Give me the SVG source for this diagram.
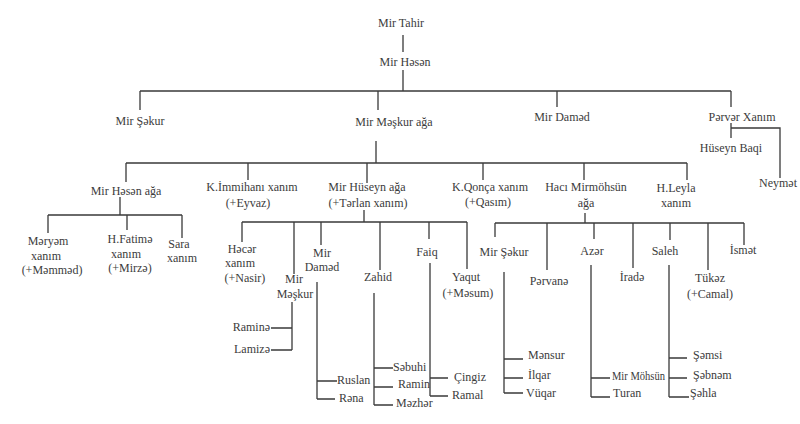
<svg xmlns="http://www.w3.org/2000/svg" width="800" height="424" viewBox="0 0 800 424">
<style>
text{font-family:"Liberation Serif","Times New Roman",serif;font-size:12px;fill:#3c3c3c;text-anchor:middle}
.l{text-anchor:start}
.r{text-anchor:end}
#connectors path{fill:none;stroke:#3a3a3a;stroke-width:1.3}
</style>
<rect width="800" height="424" fill="#ffffff"/>
<g id="connectors">
<path d="M403 35V52M403 70V91M140 91H731M140 91V110M378 91V110M557 91V107M731 91V107"/>
<path d="M731 123V138M731 128H780V178"/>
<path d="M376 141V163M126 163H687M126 163V182M248 163V180M367 163V183M483 163V180M584 163V180M687 163V180"/>
<path d="M120 197V215M48 215H182M48 215V233M127 215V230M182 215V238"/>
<path d="M364 210V222M242 222H467M242 222V242M294 222V274M321 222V245M380 222V270M429 222V239M467 222V269"/>
<path d="M292 302V350M271 328H292M271 350H292"/>
<path d="M317 282V399M317 381H337M317 399H335"/>
<path d="M374 293V405M374 368H393M374 387H393M374 405H393"/>
<path d="M430 263V396M430 378H448M430 396H448"/>
<path d="M585 213V223M495 223H744M495 223V237M547 223V270M594 223V239M633 223V268M670 223V240M708 223V270M744 223V245"/>
<path d="M504 272V393M504 359H523M504 378H523M504 393H523"/>
<path d="M591 265V397M591 378H610M591 397H610"/>
<path d="M669 265V397M669 358H687M669 378H687M669 397H689"/>
</g>
<g id="mir-tahir"><text x="401" y="27">Mir Tahir</text></g>
<g id="mir-hesen"><text x="405" y="66">Mir Həsən</text></g>
<g id="mir-sekur"><text x="140" y="125">Mir Şəkur</text></g>
<g id="mir-meskur-aga"><text x="394" y="126">Mir Məşkur ağa</text></g>
<g id="mir-damed"><text x="562" y="121">Mir Daməd</text></g>
<g id="perver-xanim"><text x="742" y="121">Pərvər Xanım</text></g>
<g id="huseyn-baqi"><text x="731" y="152">Hüseyn Baqi</text></g>
<g id="neymet"><text x="778" y="187">Neymət</text></g>
<g id="mir-hesen-aga"><text x="126" y="195">Mir Həsən ağa</text></g>
<g id="k-immihani"><text x="252" y="191">K.İmmihanı xanım</text><text x="248" y="207">(+Eyvaz)</text></g>
<g id="mir-huseyn-aga"><text x="367" y="191">Mir Hüseyn ağa</text><text x="368" y="207">(+Tərlan xanım)</text></g>
<g id="k-qonca"><text x="490" y="191">K.Qonça xanım</text><text x="488" y="206">(+Qasım)</text></g>
<g id="haci-mirmohsun"><text x="586" y="191">Hacı Mirmöhsün</text><text x="586" y="207">ağa</text></g>
<g id="h-leyla"><text x="676" y="192">H.Leyla</text><text x="676" y="207">xanım</text></g>
<g id="meryem"><text x="48" y="245">Məryəm</text><text x="46" y="260">xanım</text><text x="52" y="274">(+Məmməd)</text></g>
<g id="h-fatime"><text x="130" y="243">H.Fatimə</text><text x="126" y="258">xanım</text><text x="130" y="272">(+Mirzə)</text></g>
<g id="sara"><text x="179" y="248">Sara</text><text x="182" y="262">xanım</text></g>
<g id="hecer"><text x="242" y="253">Həcər</text><text x="240" y="267">xanım</text><text x="245" y="282">(+Nasir)</text></g>
<g id="mir-damed-2"><text x="322" y="257">Mir</text><text x="322" y="271">Daməd</text></g>
<g id="mir-meskur-2"><text x="294" y="283">Mir</text><text x="295" y="298">Məşkur</text></g>
<g id="zahid"><text x="378" y="281">Zahid</text></g>
<g id="faiq"><text x="427" y="256">Faiq</text></g>
<g id="yaqut"><text x="466" y="281">Yaqut</text><text x="468" y="297">(+Məsum)</text></g>
<g id="ramine"><text class="r" x="270" y="331">Raminə</text></g>
<g id="lamize"><text class="r" x="270" y="353">Lamizə</text></g>
<g id="ruslan"><text class="l" x="337" y="384">Ruslan</text></g>
<g id="rena"><text class="l" x="339" y="402">Rəna</text></g>
<g id="sebuhi"><text class="l" x="393" y="371">Səbuhi</text></g>
<g id="ramin"><text class="l" x="398" y="388">Ramin</text></g>
<g id="mezher"><text class="l" x="396" y="407">Məzhər</text></g>
<g id="cingiz"><text class="l" x="454" y="381">Çingiz</text></g>
<g id="ramal"><text class="l" x="452" y="399">Ramal</text></g>
<g id="mir-sekur-2"><text x="504" y="256">Mir Şəkur</text></g>
<g id="pervane"><text x="549" y="285">Pərvanə</text></g>
<g id="azer"><text x="592" y="255">Azər</text></g>
<g id="irade"><text x="632" y="281">İradə</text></g>
<g id="saleh"><text x="665" y="255">Saleh</text></g>
<g id="tukez"><text x="710" y="282">Tükəz</text><text x="710" y="298">(+Camal)</text></g>
<g id="ismet"><text x="743" y="254">İsmət</text></g>
<g id="mensur"><text class="l" x="528" y="359">Mənsur</text></g>
<g id="ilqar"><text class="l" x="528" y="379">İlqar</text></g>
<g id="vuqar"><text class="l" x="526" y="397">Vüqar</text></g>
<g id="mir-mohsun"><text class="l" x="612" y="380" textLength="53" lengthAdjust="spacingAndGlyphs">Mir Möhsün</text></g>
<g id="turan"><text class="l" x="613" y="397">Turan</text></g>
<g id="semsi"><text class="l" x="693" y="359">Şəmsi</text></g>
<g id="sebnem"><text class="l" x="693" y="379">Şəbnəm</text></g>
<g id="sehla"><text class="l" x="690" y="397">Şəhla</text></g>
</svg>
